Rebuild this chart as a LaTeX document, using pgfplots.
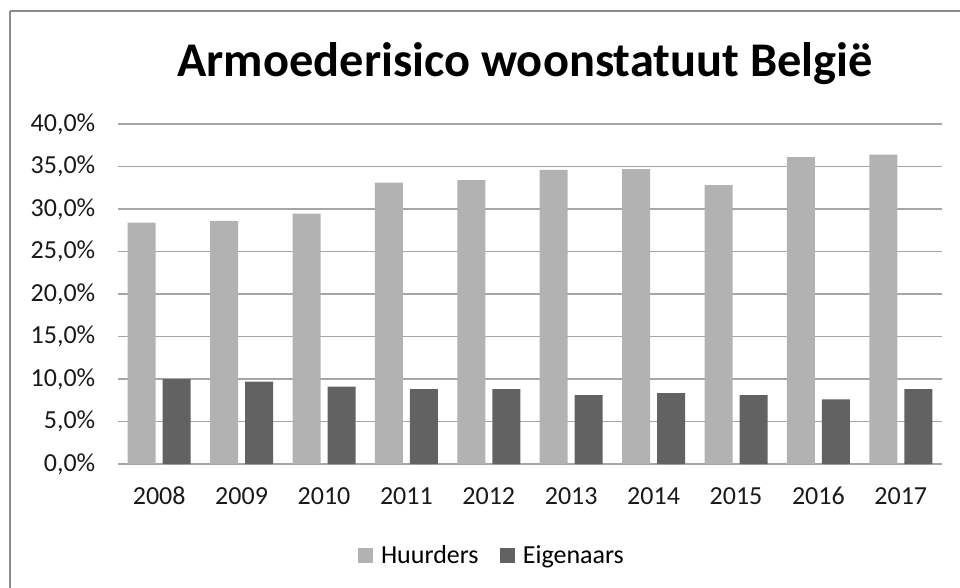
\documentclass[border=0pt]{standalone}
\usepackage{pgfplots}
\pgfplotsset{compat=1.18}
\usepackage{fontspec}
\setmainfont{Carlito}
\definecolor{light}{HTML}{B2B2B2}
\definecolor{dark}{HTML}{626262}
\definecolor{gridc}{HTML}{A6A6A6}
\definecolor{framec}{HTML}{8C8C8C}
\begin{document}
\begin{tikzpicture}[x=0.75pt,y=0.75pt]
\useasboundingbox (0,0) rectangle (960,587);
% outer chart frame (top and left visible)
\draw[framec,line width=2.2] (10,576) -- (10,-5);
\draw[framec,line width=2.2] (10,576) -- (965,576);
\node[anchor=base,font=\bfseries\fontsize{36.3}{40}\selectfont] at (525,510) {Armoederisico woonstatuut België};
\begin{axis}[
  at={(88.5pt,92.25pt)}, anchor=south west,
  scale only axis, width=618pt, height=255pt,
  ybar=5.25pt, bar width=21pt,
  xmin=-0.5, xmax=9.5, ymin=0, ymax=40,
  xtick=data,
  xticklabels={2008,2009,2010,2011,2012,2013,2014,2015,2016,2017},
  ytick={0,5,...,40},
  yticklabel={\pgfmathprintnumber[fixed,fixed zerofill,precision=1,use comma]{\tick}\%},
  /pgf/number format/assume math mode=true,
  tick label style={font=\fontsize{19.5}{22}\selectfont, text=black!90},
  major tick length=0pt,
  axis line style={draw=none},
  ymajorgrids, grid style={gridc, line width=1.3pt},
  yticklabel style={xshift=-13.5pt},
  xticklabel style={yshift=-14pt, text height=13pt, text depth=0pt},
  legend style={at={(0.4575,-0.268)}, anchor=center, draw=none, legend columns=2,
    font=\fontsize{19.5}{22}\selectfont, column sep=0pt,
    nodes={inner xsep=6pt},
    /tikz/every even column/.append style={column sep=10pt}},
  legend image code/.code={\fill[#1] (0pt,-5.6pt) rectangle (11.2pt,5.6pt);},
]
\addplot[fill=light, draw=none] coordinates {(0,28.4) (1,28.6) (2,29.45) (3,33.1) (4,33.4) (5,34.6) (6,34.7) (7,32.8) (8,36.1) (9,36.4)};
\addplot[fill=dark, draw=none] coordinates {(0,10.0) (1,9.7) (2,9.1) (3,8.8) (4,8.8) (5,8.1) (6,8.35) (7,8.1) (8,7.6) (9,8.8)};
\legend{Huurders,Eigenaars}
\end{axis}
\end{tikzpicture}
\end{document}
